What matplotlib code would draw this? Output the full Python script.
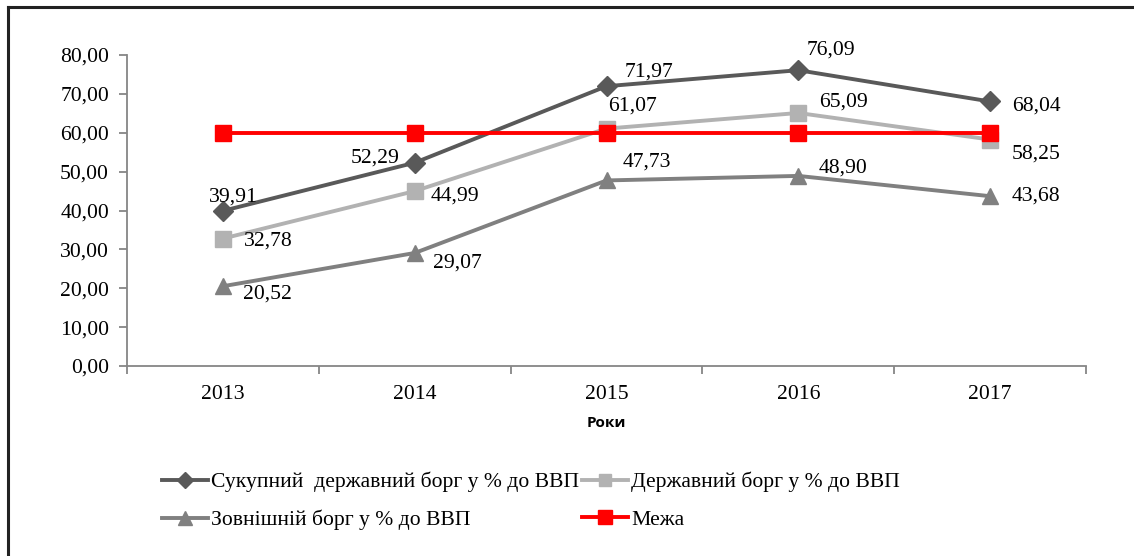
import numpy as np
import matplotlib
matplotlib.use('Agg')
import matplotlib.pyplot as plt
from matplotlib.lines import Line2D

# data
years = ['2013', '2014', '2015', '2016', '2017']
total_debt = [39.91, 52.29, 71.97, 76.09, 68.04]
state_debt = [32.78, 44.99, 61.07, 65.09, 58.25]
external_debt = [20.52, 29.07, 47.73, 48.90, 43.68]
limit = [60, 60, 60, 60, 60]

names = ['Сукупний  державний борг у % до ВВП', 'Державний борг у % до ВВП',
         'Зовнішній борг у % до ВВП', 'Межа']

# label offsets in pixels (dx, dy)
off_total = [(11, 14), (-40, 5), (42, 14), (33, 20), (46, -5)]
off_state = [(45, -2), (40, -5), (26, 23), (45, 11), (46, -14)]
off_ext = [(45, -8), (43, -10), (40, 18), (45, 8), (46, 0)]

plt.rcParams['font.family'] = ['Liberation Serif', 'DejaVu Serif']
fs = 15.6

fig = plt.figure(figsize=(11.34, 5.56), dpi=100)
ax = fig.add_axes([127/1134, 1 - 366/556, (1086 - 127)/1134, (366 - 55)/556])

x = np.arange(len(years))
lw = 2.8
l1, = ax.plot(x, total_debt, color='#595959', lw=lw, marker='D', ms=10, label=names[0], zorder=3)
l2, = ax.plot(x, state_debt, color='#b2b2b2', lw=lw, marker='s', ms=11, label=names[1], zorder=3)
l3, = ax.plot(x, external_debt, color='#808080', lw=lw, marker='^', ms=12, label=names[2], zorder=3)
l4, = ax.plot(x, limit, color='#ff0000', lw=lw, marker='s', ms=12, label=names[3], zorder=4)

def fmt(v):
    return f'{v:.2f}'.replace('.', ',')

for vals, offs in [(total_debt, off_total), (state_debt, off_state), (external_debt, off_ext)]:
    for i, v in enumerate(vals):
        ax.annotate(fmt(v), (x[i], v), xytext=offs[i], textcoords='offset pixels',
                    ha='center', va='center', fontsize=fs, color='black', zorder=5)

ax.set_xlim(-0.5, len(years) - 0.5)
ax.set_ylim(0, 80)
ax.set_yticks(np.arange(0, 81, 10))
ax.set_yticklabels([fmt(v) for v in np.arange(0, 81, 10)], fontsize=fs)
ax.set_xticks(x)
ax.set_xticklabels(years, fontsize=fs)
ax.set_xticks(np.arange(-0.5, len(years)), minor=True)
ax.tick_params(axis='x', which='major', length=0, pad=14)
ax.tick_params(axis='x', which='minor', length=6, width=1.3, color='#868686', direction='out')
ax.tick_params(axis='y', length=6, width=1.3, color='#868686', pad=7)

for s in ['top', 'right']:
    ax.spines[s].set_visible(False)
for s in ['left', 'bottom']:
    ax.spines[s].set_color('#868686')
    ax.spines[s].set_linewidth(1.3)

ax.set_xlabel('Роки', fontsize=11, fontweight='bold', family=['Open Sans', 'DejaVu Sans'], labelpad=8)

# row-wise order in a 2-column legend
ax.legend([l1, l3, l2, l4], [names[0], names[2], names[1], names[3]],
          loc='upper left', bbox_to_anchor=(162/1134, 1 - 472/556), bbox_transform=fig.transFigure,
          ncol=2, frameon=False, fontsize=fs, handlelength=2.1, handletextpad=0.15,
          columnspacing=0.15, labelspacing=0.8, borderpad=0, borderaxespad=0,
          markerscale=0.8)

# frame edges
fig.add_artist(Line2D([8/1134, 8/1134], [0, 1 - 7/556], transform=fig.transFigure, color='#222222', lw=2.2))
fig.add_artist(Line2D([8/1134, 1], [1 - 7/556, 1 - 7/556], transform=fig.transFigure, color='#222222', lw=2.2))

fig.savefig('out.png', dpi=100)
